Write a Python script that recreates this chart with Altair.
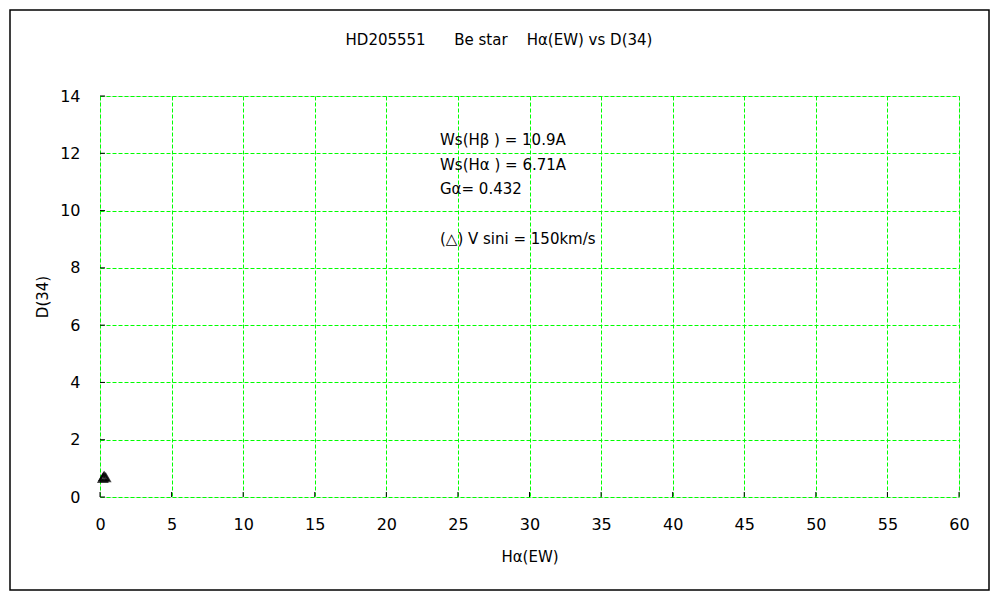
import altair as alt
import pandas as pd

# data
ew = [0.20, 0.30, 0.40, 0.25]
d34 = [0.65, 0.72, 0.68, 0.70]
x_ticks = [0, 5, 10, 15, 20, 25, 30, 35, 40, 45, 50, 55, 60]
y_ticks = [0, 2, 4, 6, 8, 10, 12, 14]
NB = "\u00a0"
notes = ["Ws(Hβ" + NB + ") = 10.9A", "Ws(Hα" + NB + ") = 6.71A", "Gα= 0.432",
         "(△) V sini = 150km/s"]
title_text = "HD205551" + NB * 6 + "Be star" + NB * 4 + "Hα(EW) vs D(34)"

FONT = "DejaVu Sans"
W, H = 859, 401

pts = pd.DataFrame({"ew": ew, "d34": d34})
xs = alt.Scale(domain=[0, 60], nice=False)
ys = alt.Scale(domain=[0, 14], nice=False)

grid = {"gridColor": "#00ff00", "gridDash": [4, 2], "gridWidth": 1}

points = alt.Chart(pts).mark_point(
    shape="triangle-up", filled=False, color="black", size=70, strokeWidth=2
).encode(
    x=alt.X("ew:Q", scale=xs,
            axis=alt.Axis(values=x_ticks, title="Hα(EW)", titleFont=FONT, titleFontSize=15,
                          titleFontWeight="normal", titlePadding=17, labelFont=FONT,
                          labelFontSize=16, labelPadding=19, tickSize=0, domain=False,
                          labelFlush=False, labelColor="black", titleColor="black", **grid)),
    y=alt.Y("d34:Q", scale=ys,
            axis=alt.Axis(values=y_ticks, title="D(34)", titleFont=FONT, titleFontSize=15,
                          titleFontWeight="normal", titlePadding=9, labelFont=FONT,
                          labelFontSize=16, labelPadding=20, tickSize=0, domain=False,
                          labelFlush=False, labelColor="black", titleColor="black", **grid)),
)

xt = alt.Chart(pd.DataFrame({"v": x_ticks})).mark_rule(color="black").encode(
    x=alt.X("v:Q", scale=xs), y=alt.value(H), y2=alt.value(H - 5))
yt = alt.Chart(pd.DataFrame({"v": y_ticks})).mark_rule(color="black").encode(
    y=alt.Y("v:Q", scale=ys), x=alt.value(0), x2=alt.value(5))

note_df = pd.DataFrame({"t": notes})
note_df["py"] = [44, 69, 93, 143]
note_layer = alt.Chart(note_df).mark_text(
    align="left", baseline="middle", font=FONT, fontSize=15, color="black"
).encode(x=alt.value(340), y=alt.Y("py:Q", scale=None), text="t:N")

title_layer = alt.Chart(pd.DataFrame({"t": [title_text]})).mark_text(
    align="center", baseline="middle", font=FONT, fontSize=15, color="black"
).encode(x=alt.value(399), y=alt.value(-56), text="t:N")

frame = alt.Chart(pd.DataFrame({"a": [0]})).mark_rect(
    fill=None, stroke="black", strokeWidth=1.5, clip=False
).encode(x=alt.value(-90), x2=alt.value(889), y=alt.value(-86), y2=alt.value(494))

chart = alt.layer(frame, points, xt, yt, note_layer, title_layer).properties(
    width=W, height=H,
    autosize=alt.AutoSizeParams(type="none"),
    padding={"left": 92, "top": 88, "right": 33, "bottom": 96},
).configure_view(stroke="#808080", strokeWidth=2).configure(background="white")

chart.save("out.html", embed_options={"renderer": "svg", "actions": False})
